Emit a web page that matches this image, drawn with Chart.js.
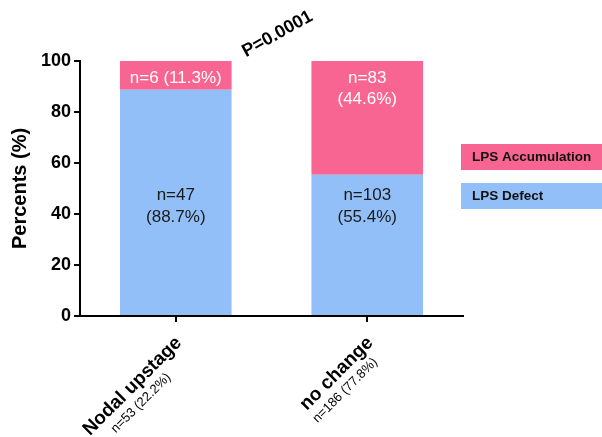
<!DOCTYPE html>
<html><head><meta charset="utf-8">
<script src="https://cdn.jsdelivr.net/npm/chart.js@4"></script>
<style>html,body{margin:0;background:#fff}#wrap{width:602px;height:437px;position:relative}</style>
</head><body>
<div id="wrap"><canvas id="c"></canvas></div>
<script>
// values
const categories = ['Nodal upstage', 'no change'];
const groupSizes = ['n=53 (22.2%)', 'n=186 (77.8%)'];
const defectPct = [88.7, 55.4];
const accumPct = [11.3, 44.6];
const defectText = [['n=47', '(88.7%)'], ['n=103', '(55.4%)']];
const accumText = [['n=6 (11.3%)'], ['n=83', '(44.6%)']];
const yTicks = [0, 20, 40, 60, 80, 100];
const pValue = 'P=0.0001';

const FONT = 'Arial, "Liberation Sans", sans-serif';
const PINK = '#F96592', BLUE = '#92BFF8';

// bar labels, rotated category labels, p value and the boxed legend
const extras = {
  id: 'extras',
  afterDatasetsDraw(chart){
    const {ctx, scales: {x, y}} = chart;
    ctx.save();
    ctx.font = '17px ' + FONT;
    ctx.textAlign = 'center';
    ctx.textBaseline = 'middle';
    chart.getDatasetMeta(0).data.forEach((bar, i) => {
      const lines = defectText[i];
      const cy = y.getPixelForValue(43);
      ctx.fillStyle = '#1a1a1a';
      lines.forEach((t, k) => ctx.fillText(t, bar.x, cy + (k - (lines.length - 1) / 2) * 22));
    });
    chart.getDatasetMeta(1).data.forEach((bar, i) => {
      ctx.fillStyle = '#fff';
      accumText[i].forEach((t, k) => ctx.fillText(t, bar.x, bar.y + 17 + k * 21));
    });

    // category labels at 45 degrees
    categories.forEach((c, i) => {
      const px = x.getPixelForValue(i);
      ctx.save();
      ctx.translate(px + 3, y.bottom + 24);
      ctx.rotate(-Math.PI / 4);
      ctx.fillStyle = '#000';
      ctx.font = 'bold 19px ' + FONT;
      ctx.textAlign = 'right';
      const w = ctx.measureText(c).width;
      ctx.fillText(c, 0, 0);
      ctx.font = '13px ' + FONT;
      ctx.textAlign = 'center';
      ctx.fillText(groupSizes[i], -w / 2 - 6, 18);
      ctx.restore();
    });

    // p value
    ctx.save();
    ctx.translate(x.getPixelForValue(0.5) + 6, y.top - 27);
    ctx.rotate(-29 * Math.PI / 180);
    ctx.font = 'bold 18px ' + FONT;
    ctx.fillStyle = '#000';
    ctx.textAlign = 'center';
    ctx.fillText(pValue, 0, 0);
    ctx.restore();

    // legend boxes (top entry = top of stack)
    const lx = x.right - 2;
    const items = chart.data.datasets.slice().reverse();
    items.forEach((ds, k) => {
      const top = y.top + 83 + k * 39;
      ctx.fillStyle = ds.backgroundColor;
      ctx.fillRect(lx, top, chart.width - lx, 26);
      ctx.fillStyle = '#111';
      ctx.font = 'bold 13.5px ' + FONT;
      ctx.textAlign = 'left';
      ctx.fillText(ds.label, lx + 11, top + 13);
    });
    ctx.restore();
  }
};

new Chart(document.getElementById('c'), {
  type: 'bar',
  data: {
    labels: categories,
    datasets: [
      { label: 'LPS Defect', data: defectPct, backgroundColor: BLUE },
      { label: 'LPS Accumulation', data: accumPct, backgroundColor: PINK }
    ]
  },
  options: {
    responsive: true,
    maintainAspectRatio: false,
    animation: false,
    events: [],
    layout: { padding: { top: 61, right: 139, bottom: 115, left: 8 } },
    datasets: { bar: { categoryPercentage: 1, barPercentage: 0.583 } },
    plugins: { legend: { display: false }, tooltip: { enabled: false } },
    scales: {
      x: {
        stacked: true,
        border: { color: '#000', width: 2 },
        grid: { offset: false, drawOnChartArea: false, tickLength: 6, color: '#000', lineWidth: 2 },
        ticks: { display: false }
      },
      y: {
        stacked: true,
        min: 0, max: 100,
        afterBuildTicks: s => { s.ticks = yTicks.map(v => ({ value: v })); },
        border: { color: '#000', width: 2 },
        grid: { drawOnChartArea: false, tickLength: 6, color: '#000', lineWidth: 2 },
        ticks: { color: '#000', font: { family: FONT, size: 18, weight: 'bold' }, padding: 3 },
        title: { display: true, text: 'Percents (%)', color: '#000',
                 font: { family: FONT, size: 20, weight: 'bold' }, padding: { top: 0, bottom: 6 } }
      }
    }
  },
  plugins: [extras]
});
</script>
</body></html>
